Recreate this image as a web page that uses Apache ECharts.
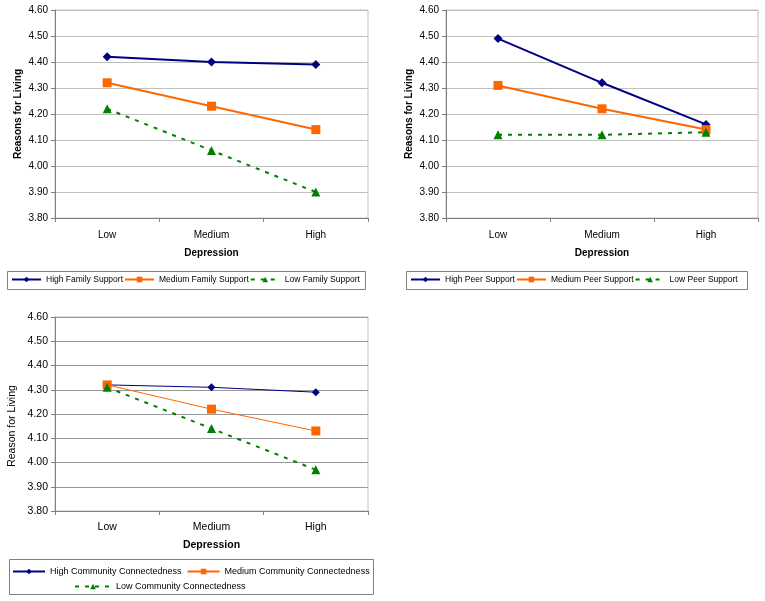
<!DOCTYPE html>
<html>
<head>
<meta charset="utf-8">
<script src="https://cdn.jsdelivr.net/npm/echarts@6/dist/echarts.min.js"></script>
<style>
html,body{margin:0;padding:0;background:#fff;}
#chart{width:765px;height:601px;}
</style>
</head>
<body>
<div id="chart"></div>
<script>
const categories = ['Low', 'Medium', 'High'];
const yTicks = [3.8, 4.6, 0.1];

const familyNames = ['High Family Support', 'Medium Family Support', 'Low Family Support'];
const familyHigh = [4.42, 4.40, 4.39];
const familyMedium = [4.32, 4.23, 4.14];
const familyLow = [4.22, 4.06, 3.90];

const peerNames = ['High Peer Support', 'Medium Peer Support', 'Low Peer Support'];
const peerHigh = [4.49, 4.32, 4.16];
const peerMedium = [4.31, 4.22, 4.14];
const peerLow = [4.12, 4.12, 4.13];

const communityNames = ['High Community Connectedness', 'Medium Community Connectedness', 'Low Community Connectedness'];
const communityHigh = [4.32, 4.31, 4.29];
const communityMedium = [4.32, 4.22, 4.13];
const communityLow = [4.31, 4.14, 3.97];

const FONT = 'Liberation Sans, Arial, sans-serif';
const NAVY = '#000080', ORANGE = '#FF6600', GREEN = '#008000';

const grids = [
  {left: 55, top: 10, width: 313, height: 208},
  {left: 446, top: 10, width: 312, height: 208},
  {left: 55, top: 317, width: 313, height: 194}
];

function xAxis(i, fs, labelMargin, nameGap) {
  return {
    type: 'category', gridIndex: i, data: categories, boundaryGap: true,
    name: 'Depression', nameLocation: 'middle', nameGap: nameGap,
    nameTextStyle: {fontFamily: FONT, fontSize: fs, fontWeight: 'bold', color: '#000'},
    axisLine: {lineStyle: {color: '#808080', width: 1}},
    axisTick: {show: true, length: 4, inside: false, lineStyle: {color: '#808080'}},
    axisLabel: {fontFamily: FONT, fontSize: fs, color: '#000', margin: labelMargin},
    splitLine: {show: false}
  };
}
function yAxis(i, name, fs, bold, gap, gridColor, namePad) {
  return {
    type: 'value', gridIndex: i, min: yTicks[0], max: yTicks[1], interval: yTicks[2],
    name: name, nameLocation: 'middle', nameGap: gap,
    nameTextStyle: {fontFamily: FONT, fontSize: fs, fontWeight: bold ? 'bold' : 'normal', color: '#000', padding: namePad},
    axisLine: {show: true, lineStyle: {color: '#808080', width: 1}},
    axisTick: {show: true, length: 4, lineStyle: {color: '#808080'}},
    axisLabel: {fontFamily: FONT, fontSize: fs, color: '#000', margin: 7,
      formatter: v => v.toFixed(2)},
    splitLine: {show: true, lineStyle: {color: gridColor, width: 1}}
  };
}
function ser(name, data, idx, color, symbol, size, width, dashed) {
  return {
    type: 'line', name: name, data: data, xAxisIndex: idx, yAxisIndex: idx,
    symbol: symbol, symbolSize: size, showSymbol: true,
    lineStyle: {color: color, width: width, type: dashed ? [4, 6] : 'solid'},
    itemStyle: {color: color},
    emphasis: {disabled: true}, animation: false, z: 3
  };
}
const TRI = 'path://M5,0 L10,10 L0,10 Z';

function legend(names, left, top, fs, iw, gap) {
  return {
    data: names, left: left, top: top, orient: 'horizontal',
    itemWidth: iw, itemHeight: 7, itemGap: gap, padding: 0,
    textStyle: {fontFamily: FONT, fontSize: fs, color: '#000'},
    selectedMode: false
  };
}

const option = {
  animation: false,
  backgroundColor: '#fff',
  grid: grids.map(g => Object.assign({show: true, borderColor: '#c0c0c0', borderWidth: 1, backgroundColor: 'transparent'}, g)),
  xAxis: [xAxis(0, 10, 12, 30), xAxis(1, 10, 12, 30), xAxis(2, 10.5, 11, 29)],
  yAxis: [
    yAxis(0, 'Reasons for Living', 10, true, 32, '#c0c0c0', 0),
    yAxis(1, 'Reasons for Living', 10, true, 32, '#c0c0c0', 0),
    yAxis(2, 'Reason for Living', 10.5, false, 37, '#999999', [0, 24, 0, 0])
  ],
  legend: [
    legend(familyNames, 11, 275, 8.5, 29, 1),
    legend(peerNames, 410, 275, 8.5, 29, 1),
    legend(communityNames.slice(0, 2), 12, 567, 9, 32, 5),
    legend(communityNames.slice(2), 74, 582, 9, 36, 5)
  ],
  series: [
    ser(familyNames[0], familyHigh, 0, NAVY, 'diamond', 9, 2, false),
    ser(familyNames[1], familyMedium, 0, ORANGE, 'rect', 9, 2, false),
    ser(familyNames[2], familyLow, 0, GREEN, TRI, 9, 2, true),
    ser(peerNames[0], peerHigh, 1, NAVY, 'diamond', 9, 2, false),
    ser(peerNames[1], peerMedium, 1, ORANGE, 'rect', 9, 2, false),
    ser(peerNames[2], peerLow, 1, GREEN, TRI, 9, 2, true),
    ser(communityNames[0], communityHigh, 2, NAVY, 'diamond', 8, 1, false),
    ser(communityNames[1], communityMedium, 2, ORANGE, 'rect', 9, 1, false),
    ser(communityNames[2], communityLow, 2, GREEN, TRI, 9, 2, true)
  ],
  graphic: [
    {type: 'rect', shape: {x: 7.5, y: 271.5, width: 358, height: 18}, style: {fill: 'none', stroke: '#808080', lineWidth: 1}, silent: true},
    {type: 'rect', shape: {x: 406.5, y: 271.5, width: 341, height: 18}, style: {fill: 'none', stroke: '#808080', lineWidth: 1}, silent: true},
    {type: 'rect', shape: {x: 9.5, y: 559.5, width: 364, height: 35}, style: {fill: 'none', stroke: '#808080', lineWidth: 1}, silent: true}
  ]
};

const chart = echarts.init(document.getElementById('chart'), null, {renderer: 'canvas'});
chart.setOption(option);
</script>
</body>
</html>
